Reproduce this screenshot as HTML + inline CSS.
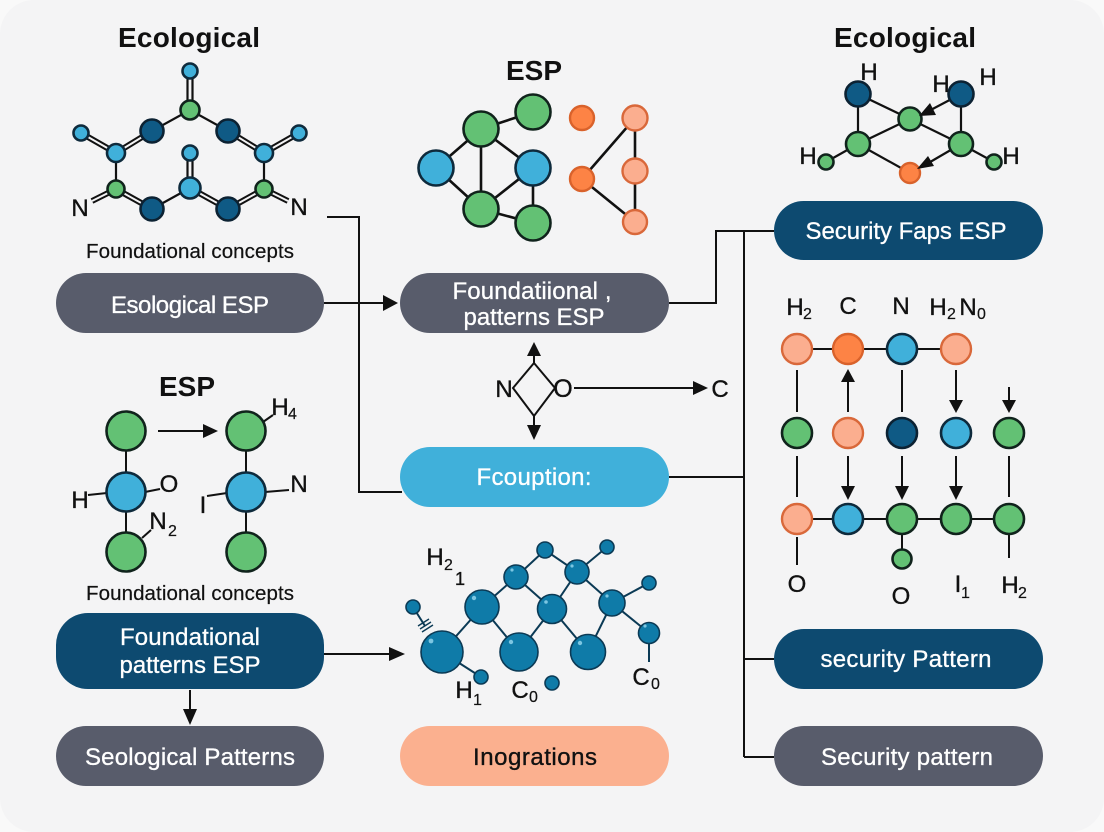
<!DOCTYPE html>
<html><head><meta charset="utf-8"><style>
html,body{margin:0;padding:0;background:#f9f9f9;width:1104px;height:832px;overflow:hidden}
svg{display:block}
text{font-family:"Liberation Sans",sans-serif;fill:#111}
.t{font-weight:700;font-size:28px;text-anchor:middle}
.c{font-size:20.5px;text-anchor:middle;stroke:#111;stroke-width:.2}
.p{font-size:24px;text-anchor:middle;fill:#fff;stroke:#fff;stroke-width:.3}
.l{font-size:24px;text-anchor:middle;stroke:#111;stroke-width:.35}
.s{font-size:16px;stroke:#111;stroke-width:.2}
.e{stroke:#111;stroke-width:2.2;fill:none}
.k{stroke:#111;stroke-width:2;fill:none}
.d{stroke:#111;stroke-width:2.6;fill:none}
.g{fill:#63c174;stroke:#10231c;stroke-width:2.6}
.b{fill:#40b0da;stroke:#0e2a3c;stroke-width:2.6}
.n{fill:#0f5a85;stroke:#0c2233;stroke-width:2.6}
.o{fill:#fd8345;stroke:#d9622b;stroke-width:2.4}
.q{fill:#fbae8f;stroke:#d9683a;stroke-width:2.4}
.m{fill:#0f7ba8;stroke:#0b3a55;stroke-width:1.6}
.h{fill:#7cc6e2}
.a{fill:#111;stroke:none}
</style></head><body>
<svg width="1104" height="832" viewBox="0 0 1104 832" xmlns="http://www.w3.org/2000/svg">
<rect x="0" y="0" width="1104" height="832" rx="34" fill="#f4f4f5"/>

<!-- connectors -->
<g class="k">
<path d="M327 217H359V492H402"/>
<path d="M324 303H385"/>
<path d="M669 303H716V231H774"/>
<path d="M744 231V757"/>
<path d="M669 477H744"/>
<path d="M744 659H774M744 757H774"/>
<path d="M324 654H392"/>
<path d="M190 690V712"/>
</g>
<polygon class="a" points="398,303 383,295 383,311"/>
<polygon class="a" points="405,654 389,647 389,661"/>
<polygon class="a" points="190,725 183,709 197,709"/>

<!-- pills -->
<rect x="56" y="273" width="268" height="60" rx="30" fill="#585c6b"/>
<rect x="400" y="273" width="269" height="60" rx="30" fill="#585c6b"/>
<rect x="400" y="447" width="269" height="60" rx="30" fill="#40b0da"/>
<rect x="774" y="201" width="269" height="59" rx="29.5" fill="#0d4a70"/>
<rect x="56" y="613" width="268" height="76" rx="32" fill="#0d4a70"/>
<rect x="56" y="726" width="268" height="60" rx="30" fill="#585c6b"/>
<rect x="400" y="726" width="269" height="60" rx="30" fill="#fbb08f"/>
<rect x="774" y="629" width="269" height="60" rx="30" fill="#0d4a70"/>
<rect x="774" y="726" width="269" height="60" rx="30" fill="#585c6b"/>

<text class="p" x="190" y="313" textLength="158">Esological ESP</text>
<text class="p" x="532" y="299" textLength="159">Foundatiional ,</text>
<text class="p" x="534" y="325" textLength="141">patterns ESP</text>
<text class="p" x="534" y="485" textLength="115">Fcouption:</text>
<text class="p" x="906" y="239" textLength="201">Security Faps ESP</text>
<text class="p" x="190" y="645" textLength="140">Foundational</text>
<text class="p" x="190" y="673" textLength="141">patterns ESP</text>
<text class="p" x="190" y="765" textLength="210">Seological Patterns</text>
<text class="l" x="535" y="765" textLength="124">Inogrations</text>
<text class="p" x="906" y="667" textLength="171">security Pattern</text>
<text class="p" x="907" y="765" textLength="172">Security pattern</text>

<!-- titles -->
<text class="t" x="189" y="47" textLength="142">Ecological</text>
<text class="t" x="534" y="80">ESP</text>
<text class="t" x="905" y="47" textLength="142">Ecological</text>
<text class="t" x="187" y="396">ESP</text>
<text class="c" x="190" y="258" textLength="208">Foundational concepts</text>
<text class="c" x="190" y="600" textLength="208">Foundational concepts</text>

<!-- top left molecule -->
<g class="e">
<path d="M187.5 75V105M192.5 75V105"/>
<path d="M190 110L152 131M190 110L228 131"/>
<path d="M81 133L116 153" stroke-width="6" stroke="#111"/><path d="M81 133L116 153" stroke="#f4f4f5" stroke-width="2"/>
<path d="M299 133L264 153" stroke-width="6" stroke="#111"/><path d="M299 133L264 153" stroke="#f4f4f5" stroke-width="2"/>
<path d="M116 153L152 131" stroke-width="6"/><path d="M116 153L152 131" stroke="#f4f4f5" stroke-width="2"/>
<path d="M264 153L228 131" stroke-width="6"/><path d="M264 153L228 131" stroke="#f4f4f5" stroke-width="2"/>
<path d="M116 153V189M264 153V189"/>
<path d="M187.5 155V185M192.5 155V185"/>
<path d="M116 189L152 209" stroke-width="6"/><path d="M116 189L152 209" stroke="#f4f4f5" stroke-width="2"/>
<path d="M228 209L264 189" stroke-width="6"/><path d="M228 209L264 189" stroke="#f4f4f5" stroke-width="2"/>
<path d="M190 188L228 209" stroke-width="6"/><path d="M190 188L228 209" stroke="#f4f4f5" stroke-width="2"/>
<path d="M152 209L190 188"/>
<path d="M92 201L116 189" stroke-width="6"/><path d="M92 201L116 189" stroke="#f4f4f5" stroke-width="2"/>
<path d="M288 201L264 189" stroke-width="6"/><path d="M288 201L264 189" stroke="#f4f4f5" stroke-width="2"/>
</g>
<circle class="b" cx="190" cy="71" r="7.5"/>
<circle class="g" cx="190" cy="110" r="9.5"/>
<circle class="n" cx="152" cy="131" r="11.5"/>
<circle class="n" cx="228" cy="131" r="11.5"/>
<circle class="b" cx="81" cy="133" r="7.5"/>
<circle class="b" cx="299" cy="133" r="7.5"/>
<circle class="b" cx="116" cy="153" r="9"/>
<circle class="b" cx="264" cy="153" r="9"/>
<circle class="b" cx="190" cy="153" r="7.5"/>
<circle class="g" cx="116" cy="189" r="8.5"/>
<circle class="g" cx="264" cy="189" r="8.5"/>
<circle class="b" cx="190" cy="188" r="10.5"/>
<circle class="n" cx="152" cy="209" r="11.5"/>
<circle class="n" cx="228" cy="209" r="11.5"/>
<text class="l" x="80" y="216">N</text>
<text class="l" x="299" y="215">N</text>

<!-- top middle network -->
<g class="d">
<path d="M481 129L533 112M481 129L436 168M481 129V209M481 129L533 168M436 168L481 209M481 209L533 168M533 168V223M481 209L533 223"/>
<path d="M635 118L582 179M635 118V222M582 179L635 222"/>
</g>
<circle class="g" cx="533" cy="112" r="17.5"/>
<circle class="g" cx="481" cy="129" r="17.5"/>
<circle class="b" cx="436" cy="168" r="17.5"/>
<circle class="b" cx="533" cy="168" r="17.5"/>
<circle class="g" cx="481" cy="209" r="17.5"/>
<circle class="g" cx="533" cy="223" r="17.5"/>
<circle class="o" cx="582" cy="118" r="12"/>
<circle class="q" cx="635" cy="118" r="12.5"/>
<circle class="o" cx="582" cy="179" r="12"/>
<circle class="q" cx="635" cy="171" r="12.5"/>
<circle class="q" cx="635" cy="222" r="12"/>

<!-- top right molecule -->
<g class="e">
<path d="M858 94V144M858 94L910 119L961 144M961 94V144M858 144L910 119M858 144L910 173M826 162L858 144M994 162L961 144"/>
<path d="M961 94L925 113M961 144L925 165"/>
</g>
<circle class="n" cx="858" cy="94" r="12.5"/>
<circle class="n" cx="961" cy="94" r="12.5"/>
<circle class="g" cx="910" cy="119" r="11.5"/>
<circle class="g" cx="858" cy="144" r="12"/>
<circle class="g" cx="961" cy="144" r="12"/>
<circle class="g" cx="826" cy="162" r="7.5"/>
<circle class="g" cx="994" cy="162" r="7.5"/>
<circle class="o" cx="910" cy="173" r="10"/>
<polygon class="a" points="919,116 930,103 936,115"/>
<polygon class="a" points="917,169 928,156 934,166"/>
<text class="l" x="869" y="80">H</text>
<text class="l" x="941" y="92">H</text>
<text class="l" x="988" y="85">H</text>
<text class="l" x="808" y="164">H</text>
<text class="l" x="1011" y="164">H</text>

<!-- N O diamond -->
<path class="k" d="M534 363L513 388L534 416L555 388Z"/>
<path class="k" d="M534 355V363M534 416V428M574 388H695"/>
<polygon class="a" points="534,342 527,356 541,356"/>
<polygon class="a" points="534,440 527,425 541,425"/>
<polygon class="a" points="708,388 693,381 693,395"/>
<text class="l" x="504" y="397">N</text>
<text class="l" x="563" y="397" style="font-size:25px">O</text>
<text class="l" x="720" y="397">C</text>

<!-- right grid -->
<g class="k">
<path d="M797 349H956M797 519H1009"/>
<path d="M797 370V412M797 456V497M797 537V565"/>
<path d="M848 412V375M848 456V488"/>
<path d="M902 370V412M902 456V488M902 519V559"/>
<path d="M956 370V402M956 456V488"/>
<path d="M1009 387V402M1009 456V497M1009 519V558"/>
</g>
<g class="a">
<polygon points="848,369 841,382 855,382"/>
<polygon points="848,500 841,486 855,486"/>
<polygon points="902,500 895,486 909,486"/>
<polygon points="956,413 949,400 963,400"/>
<polygon points="956,500 949,486 963,486"/>
<polygon points="1009,413 1002,400 1016,400"/>
</g>
<circle class="q" cx="797" cy="349" r="15"/>
<circle class="o" cx="848" cy="349" r="15"/>
<circle class="b" cx="902" cy="349" r="15"/>
<circle class="q" cx="956" cy="349" r="15"/>
<circle class="g" cx="797" cy="433" r="15"/>
<circle class="q" cx="848" cy="433" r="15"/>
<circle class="n" cx="902" cy="433" r="15"/>
<circle class="b" cx="956" cy="433" r="15"/>
<circle class="g" cx="1009" cy="433" r="15"/>
<circle class="q" cx="797" cy="519" r="15"/>
<circle class="b" cx="848" cy="519" r="15"/>
<circle class="g" cx="902" cy="519" r="15"/>
<circle class="g" cx="956" cy="519" r="15"/>
<circle class="g" cx="1009" cy="519" r="15"/>
<circle class="g" cx="902" cy="559" r="9.5"/>
<text class="l" x="795" y="315">H</text><text class="s" x="803" y="319">2</text>
<text class="l" x="848" y="314">C</text>
<text class="l" x="901" y="314">N</text>
<text class="l" x="938" y="315">H</text><text class="s" x="947" y="319">2</text><text class="l" x="968" y="315">N</text><text class="s" x="977" y="319">0</text>
<text class="l" x="797" y="592">O</text>
<text class="l" x="901" y="604">O</text>
<text class="l" x="958" y="592">I</text><text class="s" x="961" y="598">1</text>
<text class="l" x="1010" y="593">H</text><text class="s" x="1018" y="598">2</text>

<!-- ESP left molecules -->
<g class="k">
<path d="M126 431V552M246 431V552"/>
<path d="M88 495L107 493M145 492L160 489M142 538L151 530M263 422L273 415M207 496L227 493M265 492L289 490"/>
<path d="M158 431H205"/>
</g>
<polygon class="a" points="218,431 203,424 203,438"/>
<circle class="g" cx="126" cy="431" r="19.5"/>
<circle class="b" cx="126" cy="492" r="19.5"/>
<circle class="g" cx="126" cy="552" r="19.5"/>
<circle class="g" cx="246" cy="431" r="19.5"/>
<circle class="b" cx="246" cy="492" r="19.5"/>
<circle class="g" cx="246" cy="552" r="19.5"/>
<text class="l" x="80" y="508">H</text>
<text class="l" x="169" y="492">O</text>
<text class="l" x="158" y="529">N</text><text class="s" x="168" y="536">2</text>
<text class="l" x="280" y="415">H</text><text class="s" x="288" y="419">4</text>
<text class="l" x="203" y="513">I</text>
<text class="l" x="299" y="492">N</text>

<!-- bottom molecule -->
<g stroke="#0b3a55" stroke-width="2" fill="none">
<path d="M442 652L482 607L519 652L552 609L588 652L612 603L649 633V662M482 607L516 577L552 609L577 572L612 603L649 583M516 577L545 550L577 572L607 547M612 603L649 633M442 652L481 677"/>
<path d="M413 607L425 626"/>
<path d="M418 626L429 619M420 629L431 622M422 632L433 625" stroke-width="1.4"/>
</g>
<g class="m">
<circle cx="442" cy="652" r="21"/>
<circle cx="482" cy="607" r="17"/>
<circle cx="519" cy="652" r="19"/>
<circle cx="516" cy="577" r="12"/>
<circle cx="552" cy="609" r="14.5"/>
<circle cx="588" cy="652" r="17.5"/>
<circle cx="545" cy="550" r="8"/>
<circle cx="577" cy="572" r="12"/>
<circle cx="607" cy="547" r="7"/>
<circle cx="612" cy="603" r="13"/>
<circle cx="649" cy="583" r="7"/>
<circle cx="649" cy="633" r="10.5"/>
<circle cx="413" cy="607" r="7"/>
<circle cx="481" cy="677" r="7"/>
<circle cx="552" cy="683" r="7"/>
</g>
<g class="h">
<circle cx="431" cy="641" r="2.4"/><circle cx="474" cy="598" r="2.2"/><circle cx="511" cy="642" r="2.2"/>
<circle cx="580" cy="643" r="2.2"/><circle cx="546" cy="602" r="1.8"/><circle cx="512" cy="570" r="1.6"/>
<circle cx="607" cy="596" r="1.6"/><circle cx="572" cy="566" r="1.6"/><circle cx="645" cy="626" r="1.6"/>
</g>
<text class="l" x="435" y="565">H</text><text class="s" x="444" y="570">2</text>
<text class="l" x="460" y="585" style="font-size:18px">1</text>
<text class="l" x="464" y="698">H</text><text class="s" x="473" y="705">1</text>
<text class="l" x="520" y="698">C</text><text class="s" x="529" y="702">0</text>
<text class="l" x="641" y="685">C</text><text class="s" x="651" y="689">0</text>
</svg>
</body></html>
